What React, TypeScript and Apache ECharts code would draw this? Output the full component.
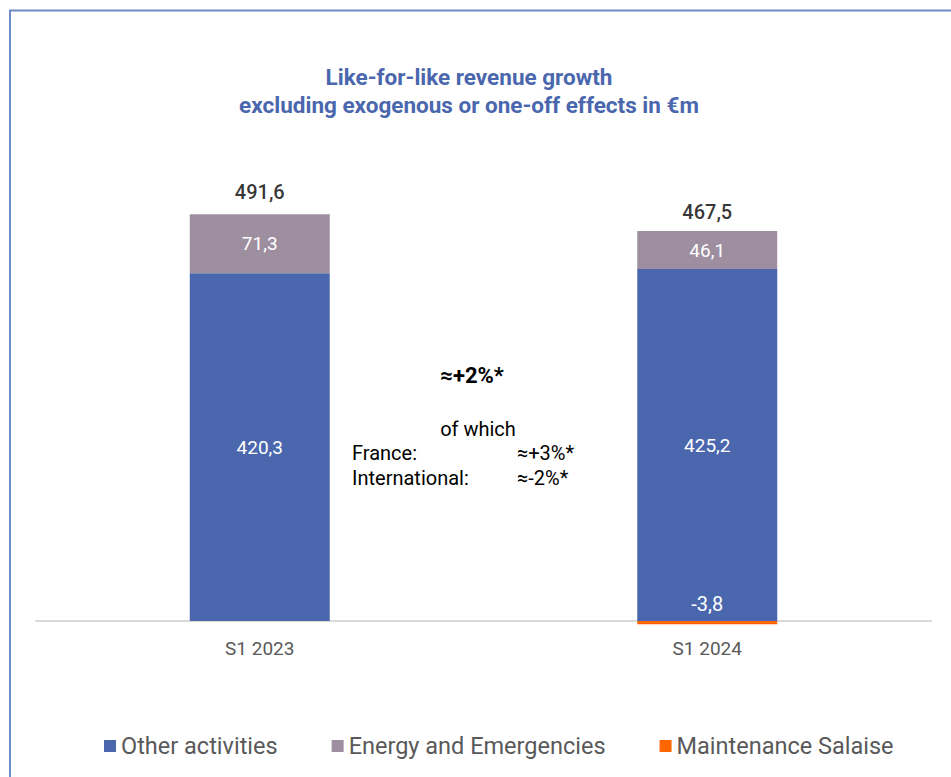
import React, { useEffect, useRef } from "react";
import * as echarts from "echarts";

const categories = ["S1 2023", "S1 2024"];
const otherActivities = [420.3, 425.2];
const energyEmergencies = [71.3, 46.1];
const maintenanceSalaise = [null, -3.8];
const totals = [491.6, 467.5];
const seriesNames = ["Other activities", "Energy and Emergencies", "Maintenance Salaise"];
const titleLines = ["Like-for-like revenue growth", "excluding exogenous or one-off effects in €m"];
const growthHeadline = "≈+2%*";
const growthOfWhich = "of which";
const growthRows = [
  ["France:", "≈+3%*"],
  ["International:", "≈-2%*"],
];

const FONT = "Roboto, 'DejaVu Sans', sans-serif";
const fmt = (v: number) => v.toFixed(1).replace(".", ",");

export default function App() {
  const ref = useRef<HTMLDivElement>(null);
  useEffect(() => {
    if (!ref.current) return;
    const chart = echarts.init(ref.current, null, { renderer: "svg" });
    const innerLabel = {
      show: true,
      position: "inside",
      color: "#ffffff",
      fontSize: 19,
      fontFamily: FONT,
      formatter: (p: any) => fmt(p.value),
    };
    chart.setOption({
      animation: false,
      backgroundColor: "#ffffff",
      textStyle: { fontFamily: FONT },
      grid: { left: 36, right: 20, top: 141, bottom: 156, containLabel: false },
      legend: {
        left: 99,
        top: 729,
        icon: "rect",
        itemWidth: 12,
        itemHeight: 12,
        itemGap: 54,
        textStyle: { fontSize: 23.5, color: "#595959", fontFamily: FONT },
        data: seriesNames,
      },
      xAxis: {
        type: "category",
        data: categories,
        axisLine: { lineStyle: { color: "#d9d9d9", width: 2 } },
        axisTick: { show: false },
        axisLabel: { color: "#595959", fontSize: 19, margin: 18, fontFamily: FONT },
      },
      yAxis: {
        type: "value",
        min: 0,
        max: 580,
        show: false,
        splitLine: { show: false },
      },
      series: [
        {
          name: seriesNames[0],
          type: "bar",
          stack: "rev",
          barWidth: 140,
          clip: false,
          itemStyle: { color: "#4A67AE" },
          label: innerLabel,
          data: otherActivities,
        },
        {
          name: seriesNames[1],
          type: "bar",
          stack: "rev",
          barWidth: 140,
          clip: false,
          itemStyle: { color: "#9E8FA0" },
          label: innerLabel,
          data: energyEmergencies,
        },
        {
          name: seriesNames[2],
          type: "bar",
          stack: "rev",
          barWidth: 140,
          clip: false,
          itemStyle: { color: "#FF6600" },
          label: {
            show: true,
            position: "top",
            distance: 7,
            color: "#ffffff",
            fontSize: 20,
            fontFamily: FONT,
            formatter: (p: any) => fmt(p.value),
          },
          data: maintenanceSalaise,
        },
        {
          name: "totals",
          type: "scatter",
          symbolSize: 0,
          silent: true,
          data: totals,
          label: {
            show: true,
            position: "top",
            distance: 12,
            color: "#000000",
            fontSize: 20,
            fontWeight: 500,
            fontFamily: FONT,
            formatter: (p: any) => fmt(p.value),
          },
        },
      ],
      graphic: [
        {
          type: "rect",
          silent: true,
          shape: { x: 10, y: 10.5, width: 1000, height: 900 },
          style: { fill: "none", stroke: "#6E8BC8", lineWidth: 2 },
        },
        {
          type: "text",
          x: 469,
          y: 77,
          style: {
            text: titleLines[0],
            fill: "#4A67AE",
            font: `bold 22.5px ${FONT}`,
            textAlign: "center",
            textVerticalAlign: "middle",
          },
        },
        {
          type: "text",
          x: 469,
          y: 105,
          style: {
            text: titleLines[1],
            fill: "#4A67AE",
            font: `bold 22.5px ${FONT}`,
            textAlign: "center",
            textVerticalAlign: "middle",
          },
        },
        {
          type: "text",
          x: 472,
          y: 375,
          style: {
            text: growthHeadline,
            fill: "#000000",
            font: `bold 22px ${FONT}`,
            textAlign: "center",
            textVerticalAlign: "middle",
          },
        },
        {
          type: "text",
          x: 478,
          y: 429,
          style: {
            text: growthOfWhich,
            fill: "#000000",
            font: `20px ${FONT}`,
            textAlign: "center",
            textVerticalAlign: "middle",
          },
        },
        ...growthRows.flatMap((row, i) => [
          {
            type: "text",
            x: 352,
            y: 453 + i * 25,
            style: {
              text: row[0],
              fill: "#000000",
              font: `20px ${FONT}`,
              textAlign: "left",
              textVerticalAlign: "middle",
            },
          },
          {
            type: "text",
            x: 517,
            y: 453 + i * 25,
            style: {
              text: row[1],
              fill: "#000000",
              font: `20px ${FONT}`,
              textAlign: "left",
              textVerticalAlign: "middle",
            },
          },
        ]),
      ],
    });
    return () => chart.dispose();
  }, []);
  return (
    <div
      ref={ref}
      style={{ position: "fixed", left: 0, top: 0, width: 951, height: 777 }}
    />
  );
}
